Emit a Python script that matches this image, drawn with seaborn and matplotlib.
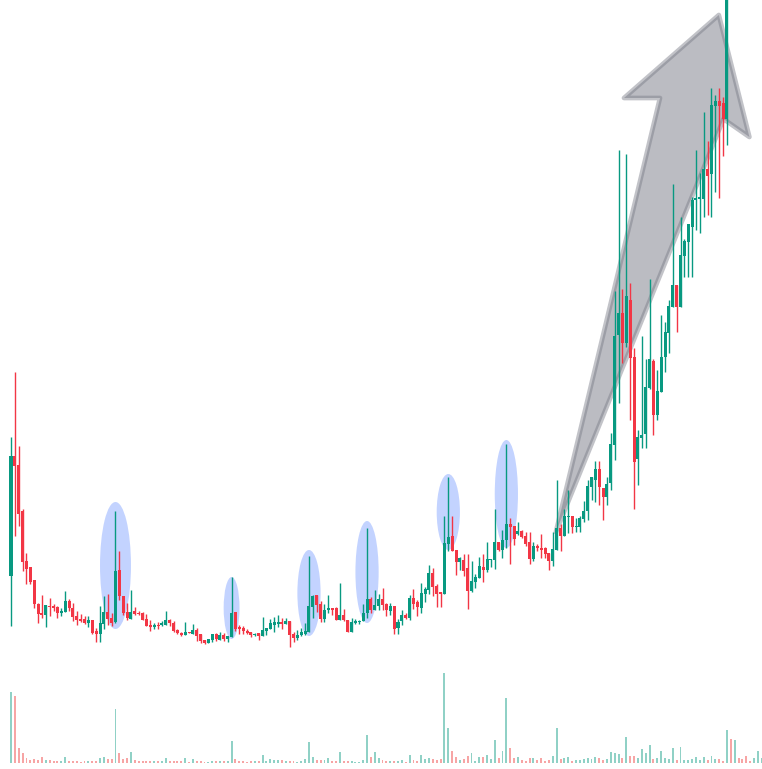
import numpy as np
import pandas as pd
import seaborn as sns
import matplotlib.pyplot as plt
from matplotlib.patches import Ellipse, Polygon

# OHLC (arbitrary price units), one entry per candle
opens = [84, 204, 195, 149, 99, 93, 80, 56, 47, 45,
         54, 54, 53, 47, 48, 59, 52, 44, 41, 41,
         37, 40, 29, 26, 36, 48, 42, 38, 90, 64,
         48, 41, 49, 47, 47, 41, 35, 33, 35, 35,
         35, 40, 37, 30, 27, 25, 28, 26, 30, 26,
         20, 17, 20, 26, 20, 25, 21, 23, 48, 33,
         32, 29, 28, 25, 27, 24, 29, 31, 35, 36,
         38, 36, 39, 26, 22, 25, 26, 28, 53, 65,
         56, 41, 50, 52, 52, 40, 45, 40, 28, 37,
         38, 39, 47, 61, 50, 54, 61, 56, 49, 54,
         32, 39, 45, 42, 62, 58, 52, 66, 70, 87,
         74, 68, 66, 116, 124, 110, 98, 100, 92, 69,
         78, 82, 93, 90, 100, 100, 118, 110, 120, 136,
         134, 126, 129, 124, 118, 101, 114, 112, 112, 107,
         99, 110, 132, 124, 143, 144, 133, 133, 141, 149,
         173, 180, 191, 172, 163, 177, 215, 325, 347, 317,
         360, 303, 201, 222, 226, 272, 299, 245, 268, 303,
         327, 353, 375, 353, 404, 418, 433, 460, 461, 461,
         491, 486, 554, 559, 557, 541, 780, 750, 790, 770,
         745, 720, 705, 735, 775]
highs = [223, 288, 214, 151, 107, 93, 80, 57, 65, 55,
         62, 56, 54, 52, 69, 61, 57, 49, 46, 44,
         44, 40, 32, 54, 64, 66, 47, 149, 109, 64,
         57, 70, 53, 49, 48, 46, 40, 37, 38, 39,
         49, 41, 39, 31, 28, 38, 28, 36, 32, 26,
         20, 21, 26, 27, 28, 27, 24, 83, 48, 35,
         34, 31, 28, 27, 27, 43, 32, 41, 43, 45,
         42, 42, 39, 28, 30, 32, 37, 104, 65, 65,
         59, 56, 65, 52, 53, 77, 51, 40, 42, 41,
         40, 56, 132, 63, 70, 66, 72, 57, 57, 54,
         41, 50, 47, 65, 71, 60, 77, 73, 95, 92,
         76, 68, 144, 183, 144, 110, 103, 106, 106, 99,
         86, 103, 106, 118, 101, 151, 118, 130, 216, 142,
         134, 138, 130, 128, 128, 118, 116, 126, 113, 107,
         128, 180, 136, 151, 170, 144, 142, 144, 159, 180,
         183, 199, 199, 172, 183, 227, 369, 510, 371, 506,
         377, 312, 230, 324, 301, 381, 301, 290, 345, 338,
         360, 476, 375, 443, 421, 436, 463, 510, 487, 548,
         519, 572, 565, 572, 563, 800, 810, 820, 800, 785,
         760, 735, 750, 790, 800]
lows = [34, 124, 134, 89, 76, 76, 52, 37, 42, 33,
        44, 49, 42, 44, 48, 49, 39, 35, 38, 36,
        33, 26, 18, 18, 31, 35, 34, 37, 60, 45,
        40, 41, 45, 45, 40, 34, 29, 31, 31, 34,
        35, 34, 28, 26, 24, 25, 27, 26, 19, 17,
        16, 17, 18, 19, 20, 19, 18, 23, 29, 26,
        26, 26, 23, 24, 20, 24, 25, 31, 28, 33,
        31, 36, 13, 18, 20, 24, 25, 28, 42, 48,
        38, 38, 47, 45, 40, 40, 39, 28, 28, 36,
        36, 39, 42, 47, 50, 50, 50, 44, 45, 26,
        26, 35, 41, 40, 51, 44, 47, 58, 66, 64,
        53, 53, 66, 109, 109, 85, 90, 84, 51, 68,
        72, 82, 78, 88, 93, 91, 109, 102, 112, 96,
        115, 125, 122, 114, 96, 99, 109, 102, 102, 90,
        94, 110, 109, 124, 127, 127, 128, 128, 138, 140,
        160, 158, 155, 140, 155, 170, 200, 257, 297, 313,
        240, 151, 175, 212, 212, 271, 225, 240, 268, 288,
        307, 353, 328, 353, 383, 383, 383, 430, 427, 443,
        445, 443, 468, 462, 504, 515, 700, 730, 740, 720,
        700, 690, 695, 725, 765]
closes = [204, 194, 146, 98, 91, 78, 56, 46, 45, 55,
          53, 52, 47, 49, 59, 52, 43, 40, 39, 37,
          40, 27, 26, 37, 48, 41, 37, 89, 64, 47,
          42, 48, 46, 46, 40, 34, 33, 35, 34, 37,
          40, 37, 29, 27, 25, 28, 27, 30, 24, 19,
          17, 21, 26, 21, 25, 21, 24, 47, 31, 31,
          29, 27, 25, 26, 24, 30, 32, 37, 38, 38,
          36, 39, 25, 22, 25, 28, 29, 54, 64, 55,
          41, 50, 52, 50, 40, 45, 40, 28, 38, 39,
          39, 47, 61, 50, 55, 61, 55, 50, 54, 31,
          38, 45, 42, 62, 56, 53, 67, 71, 87, 73,
          66, 66, 117, 123, 109, 98, 102, 89, 69, 79,
          83, 94, 90, 101, 101, 118, 110, 120, 136, 133,
          121, 129, 123, 116, 101, 114, 112, 110, 106, 99,
          111, 132, 124, 144, 144, 133, 134, 142, 149, 174,
          183, 191, 173, 163, 176, 216, 324, 347, 317, 364,
          302, 198, 223, 225, 273, 301, 245, 269, 303, 328,
          354, 375, 353, 405, 419, 436, 460, 462, 463, 491,
          484, 555, 559, 554, 541, 780, 750, 790, 770, 745,
          720, 705, 735, 775, 790]
volumes = [71, 67, 15, 10, 5, 3, 4, 3, 6, 3,
           3, 2, 2, 2, 6, 2, 2, 2, 1, 2,
           2, 2, 2, 5, 6, 4, 4, 54, 10, 4,
           5, 11, 3, 2, 2, 2, 2, 2, 2, 2,
           5, 2, 2, 2, 2, 5, 1, 4, 2, 2,
           1, 1, 2, 2, 2, 2, 2, 22, 4, 2,
           2, 1, 2, 2, 2, 8, 2, 4, 3, 3,
           3, 2, 2, 2, 1, 2, 4, 21, 6, 3,
           3, 3, 5, 2, 2, 11, 2, 2, 2, 1,
           1, 3, 28, 6, 11, 5, 3, 2, 2, 2,
           2, 3, 1, 8, 3, 2, 8, 4, 5, 4,
           3, 4, 90, 35, 12, 6, 3, 4, 7, 10,
           2, 6, 6, 8, 4, 23, 5, 12, 65, 15,
           5, 6, 3, 2, 5, 5, 3, 5, 2, 3,
           7, 35, 4, 5, 6, 2, 3, 3, 4, 5,
           4, 6, 5, 3, 4, 11, 10, 9, 5, 26,
           7, 7, 5, 14, 10, 18, 4, 5, 12, 5,
           4, 15, 3, 16, 3, 3, 4, 6, 3, 6,
           3, 7, 4, 4, 2, 33, 24, 23, 5, 4,
           7, 2, 5, 12, 5]

# highlighted candles (blue ellipses)
highlight_idx = [27, 57, 77, 92, 113, 128]
highlight_lo = [31, 21, 24, 37, 110, 112]
highlight_hi = [158, 83, 110, 139, 186, 220]
highlight_w = [8.0, 4.1, 6.0, 6.0, 6.0, 6.0]

# big trend arrow outline, (candle index, price)
arrow_pts = [(140.8, 128), (167.7, 562), (158.4, 562), (182.9, 645),
             (190.8, 523), (184.1, 541)]

GREEN = '#089981'
RED = '#f23645'

df = pd.DataFrame({'open': opens, 'high': highs, 'low': lows,
                   'close': closes, 'volume': volumes})
df['idx'] = np.arange(len(df))
df['dir'] = np.where(df['close'] >= df['open'], 'up', 'down')
colors = np.where(df['dir'] == 'up', GREEN, RED)

sns.set_style('white')
fig = plt.figure(figsize=(7.62, 7.69), dpi=100)
ax = fig.add_axes([0, 0, 1, 1])
vax = fig.add_axes([0, 6 / 769, 1, 100 / 769])
vax.set_facecolor('none')

# highlights
for i, lo, hi, w in zip(highlight_idx, highlight_lo, highlight_hi, highlight_w):
    ax.add_patch(Ellipse((i, (lo + hi) / 2), w, hi - lo, facecolor='#2962ff',
                         alpha=0.28, linewidth=0, zorder=1))

# arrow
ax.add_patch(Polygon(arrow_pts, closed=True, facecolor=(0.47, 0.48, 0.525, 0.5),
                     edgecolor=(0.47, 0.48, 0.525, 0.45), linewidth=3.4,
                     joinstyle='round', zorder=1.5))

# candles
ax.vlines(df['idx'], df['low'], df['high'], colors=colors, linewidth=1.0, zorder=2)
body_lo = np.minimum(df['open'], df['close'])
body_h = np.maximum(np.abs(df['close'] - df['open']), 1.2)
ax.bar(df['idx'], body_h, bottom=body_lo, width=0.78, color=colors,
       linewidth=0, zorder=3)

ax.set_xlim(-11 / 3.87, 751 / 3.87)
ax.set_ylim(-109, 660)
ax.axis('off')

# volume
sns.barplot(data=df, x='idx', y='volume', hue='dir',
            palette={'up': '#90d1c6', 'down': '#f7a5a5'},
            dodge=False, width=0.5, errorbar=None, legend=False,
            saturation=1, linewidth=0, ax=vax)
vax.set_xlim(-11 / 3.87, 751 / 3.87)
vax.set_ylim(0, 100)
vax.axis('off')

fig.savefig('out.png', dpi=100)
